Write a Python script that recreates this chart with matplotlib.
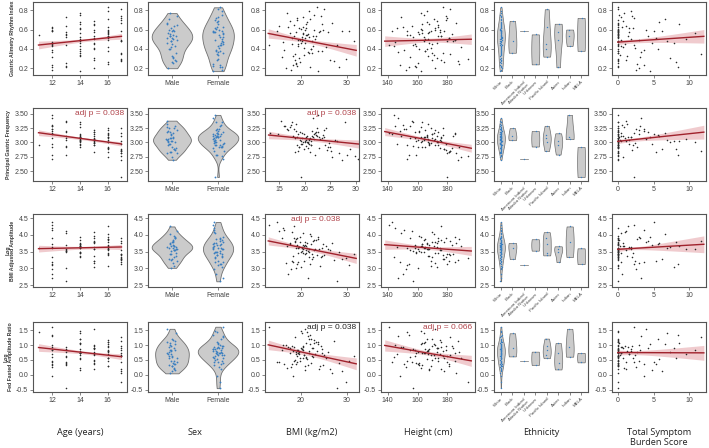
import numpy as np
import matplotlib
matplotlib.use("Agg")
import matplotlib.pyplot as plt
import seaborn as sns

plt.rcParams['font.family'] = ['Liberation Sans', 'DejaVu Sans']

# ---------------- per-subject data (read/estimated from picture) ----------------
age = [12,14,16,15,13,17,14,12,16,15,
       14,17,12,16,13,15,14,16,12,17,
       15,14,13,16,12,17,14,15,16,12,
       13,14,17,16,15,12,14,16,17,13,
       15,12,14,16,17,14,15,12,13,16,
       17,14,15,16,12,11,14,17,15,13,
       16,12,14,17,15,16,13,12,14,16,
       15,17,14,12,16,13,15,17,14,16,
       12,15,17,14,13,16,12,15,14,17]
sex_codes = ("MFFMFMFFMF" "FMFFMMFMFF" "MFMFFMFMMF" "FFMFMFMFFM" "MFMMFFMFFM"
             "FMFMFFMMFF" "MFFMFMFMFM" "FMMFFMFFMF" "MFFMFMFMFF")
bmi = [19.5,21.2,23.8,18.1,20.4,26.3,17.6,22.1,19.9,24.7,
       20.8,28.9,16.2,21.7,18.9,22.6,20.1,25.4,17.9,19.3,
       23.1,21.9,15.4,20.6,18.4,31.5,22.8,19.7,24.1,13.2,
       20.3,21.4,27.2,19.1,22.3,17.3,20.9,23.5,18.7,21.1,
       16.8,24.9,19.4,22.0,29.8,20.2,18.6,21.6,25.9,19.8,
       22.5,17.1,20.7,23.3,14.9,21.3,18.3,26.8,20.0,19.2,
       22.9,16.5,21.8,24.4,18.8,20.5,27.9,19.6,23.7,21.0,
       17.7,22.4,20.3,30.4,19.0,21.5,18.2,25.1,22.2,20.6,
       16.0,23.9,19.5,21.2,28.2,18.5,22.7,20.9,24.6,19.3]
height = [158,172,165,181,149,176,163,154,185,168,
          171,178,145,166,160,174,162,189,152,179,
          167,170,156,183,148,180,164,173,169,141,
          157,166,187,175,161,150,168,177,182,155,
          172,163,159,171,194,165,174,147,160,178,
          184,162,169,176,143,153,167,186,173,158,
          175,151,164,179,170,167,157,146,162,181,
          173,177,164,153,188,161,170,182,166,174,
          155,168,185,163,159,176,144,172,165,180]
symptom = [0,2.1,0,5.3,0.5,1.2,0,8.4,3.0,0,
           0.3,6.1,0,1.8,0,4.2,0,0.8,2.6,0,
           9.5,0,1.1,0,3.7,0,0.2,7.3,0,2.2,
           0,5.8,0,1.5,0,0.6,4.8,0,11.6,0,
           2.9,0,0.4,6.6,0,1.9,0,3.3,0,8.1,
           0,0.9,2.4,0,5.1,0,1.3,0,7.8,0,
           0.1,3.6,0,2.0,0,10.8,0,1.6,4.5,0,
           0.7,0,6.9,0,2.7,0,1.0,0,5.6,0,
           3.1,0,0.5,8.6,0,1.4,0,4.0,0,2.3]
eth_codes = ("WWWWWWWWWW" "WWWWWWWWWW" "WWWWWWWWWW" "WWWWWWWWWW" "WWWWWWWWWW"
             "WWWWWWWWWW" "WWWWWWWWWW" "BBBAUUPPPP" "PSSSSIIIMM")

gari = [0.45,0.62,0.38,0.51,0.73,0.28,0.56,0.21,0.49,0.66,
        0.34,0.58,0.47,0.79,0.25,0.53,0.61,0.42,0.18,0.70,
        0.50,0.36,0.64,0.55,0.23,0.48,0.75,0.31,0.59,0.44,
        0.52,0.68,0.27,0.57,0.40,0.63,0.46,0.83,0.35,0.54,
        0.20,0.60,0.43,0.71,0.30,0.50,0.65,0.37,0.57,0.26,
        0.48,0.77,0.41,0.53,0.58,0.54,0.33,0.67,0.46,0.22,
        0.60,0.39,0.52,0.74,0.29,0.56,0.44,0.62,0.17,0.51,
        0.69,0.36,0.48,0.58,0.24,0.55,0.45,0.81,0.40,0.63,
        0.32,0.57,0.49,0.66,0.21,0.53,0.43,0.60,0.38,0.72]
freq = [3.08,2.95,3.21,2.84,3.12,3.02,3.35,2.78,3.15,2.99,
        3.05,2.88,3.28,3.10,2.92,3.18,3.01,2.74,3.24,2.97,
        3.06,3.14,3.38,2.90,3.20,2.82,3.09,3.00,3.26,3.16,
        2.94,3.11,2.70,3.04,3.19,3.30,2.98,3.13,2.86,3.07,
        3.22,2.93,3.03,3.17,2.76,3.10,2.96,3.42,3.05,2.89,
        3.12,3.27,2.99,3.08,3.15,2.95,3.33,2.81,3.02,3.18,
        2.91,3.23,3.06,2.87,3.14,3.01,3.36,2.97,3.09,2.83,
        3.11,3.25,3.04,2.72,2.93,3.20,3.07,2.85,3.13,3.00,
        3.29,2.96,3.16,3.03,2.79,3.10,3.48,3.06,2.92,2.40]
amp = [3.62,3.45,3.88,3.21,4.05,3.55,3.74,3.12,3.95,3.38,
       3.68,3.27,4.21,3.58,3.02,3.81,3.49,3.66,2.98,3.92,
       3.57,3.35,4.12,3.71,3.18,3.44,3.86,3.63,3.08,4.30,
       3.52,3.77,3.25,3.60,3.97,2.85,3.69,3.40,3.83,3.56,
       3.15,3.73,3.47,4.02,3.30,3.64,3.90,2.72,3.59,3.79,
       3.42,3.67,3.22,3.85,4.38,3.61,3.36,3.75,3.05,3.70,
       3.54,4.15,3.48,3.33,3.80,3.58,2.62,3.65,3.94,3.43,
       3.76,3.28,3.62,3.10,3.87,3.53,4.08,3.39,3.72,3.46,
       3.91,3.57,3.19,3.66,3.50,4.25,3.34,3.78,3.60,3.13]
ratio = [0.82,0.55,1.12,0.38,0.95,0.21,0.74,1.35,0.48,0.88,
         0.66,0.12,1.02,0.79,0.35,0.91,1.48,0.58,0.27,0.84,
         0.70,1.21,0.44,0.97,-0.05,0.63,1.08,0.77,0.31,1.62,
         0.86,0.52,1.15,0.69,0.40,0.93,0.15,0.81,1.26,0.60,
         0.99,0.34,0.73,1.05,-0.25,0.87,0.46,1.31,0.76,0.57,
         0.92,0.24,0.68,1.10,0.43,1.45,0.80,0.05,0.89,0.64,
         1.18,0.37,0.75,0.96,0.51,0.83,-0.45,0.71,1.03,0.28,
         0.90,0.62,1.40,0.47,0.78,0.33,0.98,0.67,1.22,0.56,
         0.85,0.18,0.72,1.07,0.39,0.94,0.61,1.55,0.74,0.42]

# ---------------- labels ----------------
row_labels = ["Gastric Alimetry Rhythm Index", "Principal Gastric Frequency",
              "Log\nBMI Adjusted Amplitude", "Log\nFed Fasted Amplitude Ratio"]
col_titles = ["Age (years)", "Sex", "BMI (kg/m2)", "Height (cm)", "Ethnicity",
              "Total Symptom\nBurden Score"]
sex_order = ["Male", "Female"]
eth_order = ["White", "Black", "American Indian/\nAlaska Native", "Unknown",
             "Pacific Island", "Asian", "Indian", "MELA"]
eth_map = {"W": 0, "B": 1, "A": 2, "U": 3, "P": 4, "S": 5, "I": 6, "M": 7}

# ---------------- displayed model fits ----------------
# order of continuous columns: age, bmi, height, symptom
fit_x0 = [11, 13, 138, 0]
fit_x1 = [17, 32, 196, 12]
fit_y0 = [[0.44, 0.56, 0.48, 0.47],
          [3.17, 3.13, 3.19, 3.02],
          [3.59, 3.82, 3.71, 3.57],
          [0.92, 1.01, 0.99, 0.75]]
fit_y1 = [[0.53, 0.385, 0.50, 0.53],
          [2.975, 2.96, 2.90, 3.18],
          [3.64, 3.30, 3.52, 3.72],
          [0.61, 0.37, 0.47, 0.74]]
ci_center = [[0.015, 0.02, 0.02, 0.02],
             [0.02, 0.03, 0.03, 0.03],
             [0.04, 0.05, 0.05, 0.04],
             [0.05, 0.07, 0.07, 0.07]]
ci_end = [[0.04, 0.06, 0.055, 0.07],
          [0.05, 0.08, 0.07, 0.12],
          [0.10, 0.15, 0.14, 0.25],
          [0.13, 0.20, 0.19, 0.25]]
annotations = [(1, 0, "adj p = 0.038", "#b0434a", 0.97),
               (1, 2, "adj p = 0.038", "#b0434a", 0.97),
               (2, 2, "adj p = 0.038", "#b0434a", 0.80),
               (3, 2, "adj p = 0.038", "#222222", 0.97),
               (3, 3, "adj p = 0.066", "#b0434a", 0.97)]

# ---------------- axes config ----------------
ylims = [(0.13, 0.885), (2.33, 3.60), (2.45, 4.62), (-0.58, 1.78)]
yticks = [[0.2, 0.4, 0.6, 0.8], [2.50, 2.75, 3.00, 3.25, 3.50],
          [2.5, 3.0, 3.5, 4.0, 4.5], [-0.5, 0.0, 0.5, 1.0, 1.5]]
yfmt = ["{:.1f}", "{:.2f}", "{:.1f}", "{:.1f}"]
cont_xlims = [(10.6, 17.4), (12.3, 32.6), (135.5, 198.5), (-0.8, 12.3)]
cont_xticks = [[12, 14, 16], [20, 30], [140, 160, 180], [0, 5, 10]]

W, H = 709, 448
col_left = [33, 148, 265, 381, 494, 612]
col_w = 94
row_top = [2, 108, 214, 322]
row_bot = [75, 181, 287, 392]

LINE_C = "#a0222c"
BAND_C = "#e6a9ae"
PT_C = "#2b2b2b"
VIO_FC = "#cbcbcb"
VIO_EC = "#6f6f6f"
BLUE = "#3a7fc0"

fig = plt.figure(figsize=(W / 100, H / 100), dpi=100)

outcomes = [gari, freq, amp, ratio]
cont_data = [age, bmi, height, symptom]
sex_list = ["Male" if c == "M" else "Female" for c in sex_codes]
eth_list = [eth_order[eth_map[c]] for c in eth_codes]


def style(ax, r):
    for s in ax.spines.values():
        s.set_color("#555555")
        s.set_linewidth(0.8)
    ax.set_ylim(*ylims[r])
    ax.set_yticks(yticks[r])
    ax.set_yticklabels([yfmt[r].format(v) for v in yticks[r]])
    ax.tick_params(axis="both", length=2, width=0.5, color="#555555",
                   labelsize=5, labelcolor="#444444", pad=1.5)
    ax.set_xlabel("")
    ax.set_ylabel("")


for r in range(4):
    y = np.array(outcomes[r], dtype=float)
    for c in range(6):
        ax = fig.add_axes([col_left[c] / W, 1 - row_bot[r] / H, col_w / W,
                           (row_bot[r] - row_top[r]) / H])
        if c in (0, 2, 3, 5):
            k = {0: 0, 2: 1, 3: 2, 5: 3}[c]
            x = np.array(cont_data[k], dtype=float)
            xs = np.linspace(fit_x0[k], fit_x1[k], 80)
            yl = fit_y0[r][k] + (fit_y1[r][k] - fit_y0[r][k]) * (xs - fit_x0[k]) / (fit_x1[k] - fit_x0[k])
            xc = x.mean()
            dmax = max(fit_x1[k] - xc, xc - fit_x0[k])
            b = np.sqrt(max(ci_end[r][k] ** 2 - ci_center[r][k] ** 2, 0)) / dmax
            hw = np.sqrt(ci_center[r][k] ** 2 + (b * (xs - xc)) ** 2)
            ax.fill_between(xs, yl - hw, yl + hw, color=BAND_C, alpha=0.6, lw=0, zorder=1)
            ax.scatter(x, y, s=1.3, c=PT_C, lw=0, zorder=2)
            ax.plot(xs, yl, color=LINE_C, lw=1.0, zorder=3)
            xl = cont_xlims[k]
            xt = cont_xticks[k]
            if r == 1 and k == 1:
                xl = (12.3, 30.6)
                xt = [15, 20, 25, 30]
            ax.set_xlim(*xl)
            ax.set_xticks(xt)
        elif c == 1:
            sns.violinplot(x=sex_list, y=y, order=sex_order, ax=ax, cut=0,
                           inner=None, color=VIO_FC, saturation=1, linewidth=0.6,
                           linecolor=VIO_EC, width=0.88)
            sns.stripplot(x=sex_list, y=y, order=sex_order, ax=ax, size=1.3,
                          color=BLUE, jitter=0.12)
            ax.set_xlim(-0.52, 1.52)
        else:
            sns.violinplot(x=eth_list, y=y, order=eth_order, ax=ax, cut=0,
                           inner=None, color=VIO_FC, saturation=1, linewidth=0.5,
                           linecolor=VIO_EC, density_norm="width", width=0.7)
            sns.stripplot(x=eth_list, y=y, order=eth_order, ax=ax, size=1.0,
                          color=BLUE, jitter=0.06)
            ax.set_xlim(-0.6, 7.6)
        style(ax, r)
        if c == 4:
            ax.set_xticks(range(len(eth_order)))
            ax.set_xticklabels(eth_order, rotation=45, ha="right",
                               rotation_mode="anchor", fontsize=3.2,
                               linespacing=0.9)
        if c == 0:
            ax.set_ylabel(row_labels[r], fontsize=3.7, fontweight="bold",
                          color="#333333", labelpad=2, linespacing=1.0)
        for (ar, ac, txt, col, xpos) in annotations:
            if ar == r and ac == c:
                ax.text(xpos, 0.975, txt, transform=ax.transAxes, ha="right",
                        va="top", fontsize=6, color=col)

for c, t in enumerate(col_titles):
    cx = (col_left[c] + col_w / 2) / W
    fig.text(cx, 1 - 428 / H, t, ha="center", va="top", fontsize=6.6,
             family=["Open Sans", "DejaVu Sans"], color="#222222",
             linespacing=1.15)

fig.savefig("out.png", dpi=100, facecolor="white")
